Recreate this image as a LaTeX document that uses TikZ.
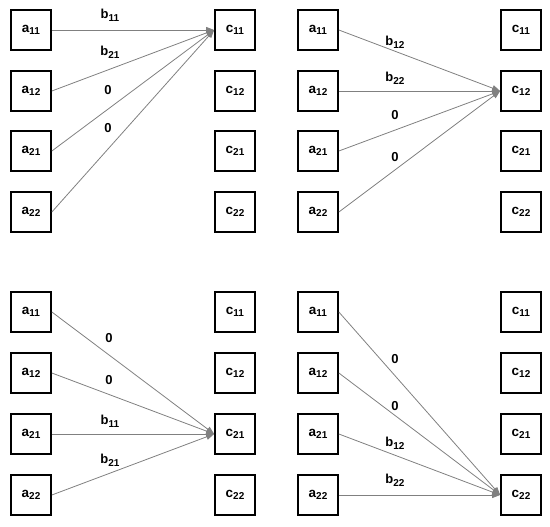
\documentclass[tikz,border=0pt]{standalone}
\usepackage{fontspec}
\setmainfont{Liberation Sans}
\usetikzlibrary{arrows.meta}
\newcommand{\sbx}[1]{\raisebox{-2.6pt}{\fontsize{10}{10}\selectfont #1}}
\tikzset{
  cell/.style={draw=black, line width=1.7pt, minimum size=40pt, inner sep=0pt, font=\bfseries\fontsize{13.5}{14}\selectfont},
  conn/.style={draw=black!50, line width=0.8pt, -{Triangle[length=8pt,width=6pt]}},
  lbl/.style={font=\bfseries\fontsize{13}{14}\selectfont, inner sep=0pt},
}
\begin{document}
\begin{tikzpicture}[x=1pt,y=-1pt]
\useasboundingbox (0,0) rectangle (550,527);
\foreach \p/\ax/\cx/\ya/\yb/\yc/\yd in {tl/31/235/30/91/151/212, tr/318/521/30/91/151/212, bl/31/235/312/373/434/495, br/318/521/312/373/434/495}{
  \node[cell] (\p-a11) at (\ax,\ya) {a\sbx{11}};
  \node[cell] (\p-a12) at (\ax,\yb) {a\sbx{12}};
  \node[cell] (\p-a21) at (\ax,\yc) {a\sbx{21}};
  \node[cell] (\p-a22) at (\ax,\yd) {a\sbx{22}};
  \node[cell] (\p-c11) at (\cx,\ya) {c\sbx{11}};
  \node[cell] (\p-c12) at (\cx,\yb) {c\sbx{12}};
  \node[cell] (\p-c21) at (\cx,\yc) {c\sbx{21}};
  \node[cell] (\p-c22) at (\cx,\yd) {c\sbx{22}};
}
% top-left: to c11
\foreach \s in {a11,a12,a21,a22}{\draw[conn] (tl-\s.east) -- (tl-c11.west);}
\node[lbl] (l1) at (110,15) {b\sbx{11}};
\node[lbl] (l2) at (110,52) {b\sbx{21}};
\node[lbl] (l3) at (108,90) {0};
\node[lbl] (l4) at (108,128) {0};
% top-right: to c12
\foreach \s in {a11,a12,a21,a22}{\draw[conn] (tr-\s.east) -- (tr-c12.west);}
\node[lbl] (l5) at (395,42) {b\sbx{12}};
\node[lbl] (l6) at (395,78) {b\sbx{22}};
\node[lbl] (l7) at (395,115) {0};
\node[lbl] (l8) at (395,157) {0};
% bottom-left: to c21
\foreach \s in {a11,a12,a21,a22}{\draw[conn] (bl-\s.east) -- (bl-c21.west);}
\node[lbl] (l9) at (109,338) {0};
\node[lbl] (l10) at (109,380) {0};
\node[lbl] (l11) at (110,421) {b\sbx{11}};
\node[lbl] (l12) at (110,460) {b\sbx{21}};
% bottom-right: to c22
\foreach \s in {a11,a12,a21,a22}{\draw[conn] (br-\s.east) -- (br-c22.west);}
\node[lbl] (l13) at (395,359) {0};
\node[lbl] (l14) at (395,406) {0};
\node[lbl] (l15) at (395,443) {b\sbx{12}};
\node[lbl] (l16) at (395,480) {b\sbx{22}};
\end{tikzpicture}
\end{document}
